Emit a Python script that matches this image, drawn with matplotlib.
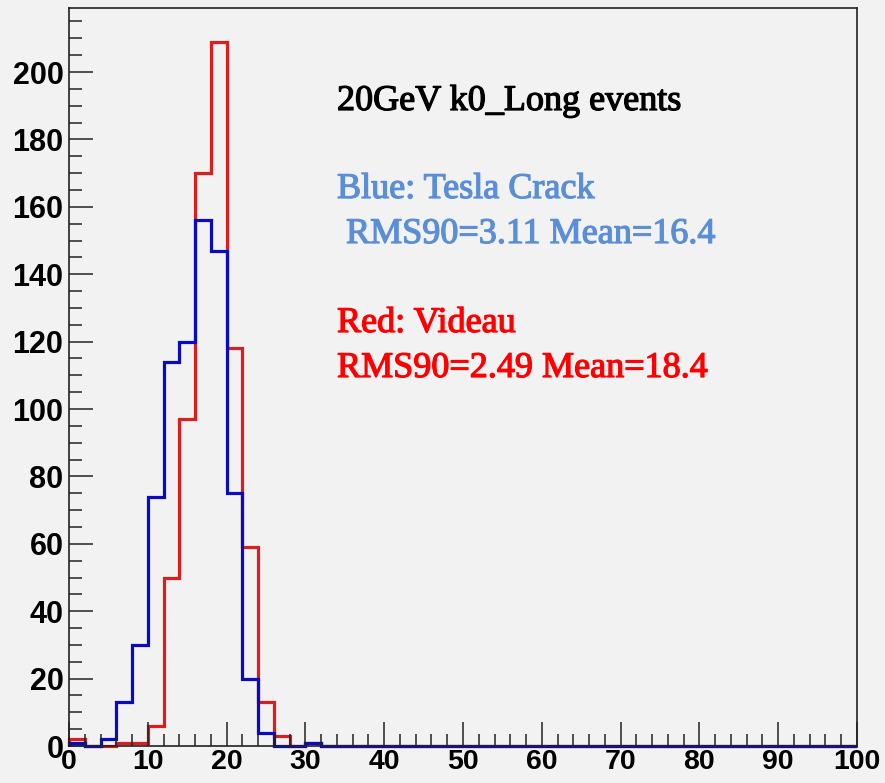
import numpy as np
import matplotlib
matplotlib.use("Agg")
import matplotlib.pyplot as plt
import matplotlib.patheffects as pe
from matplotlib.ticker import MultipleLocator

# bin edges: 50 bins of width 2 from 0 to 100
edges = np.arange(0, 102, 2)

# counts per bin (bins 0-2, 2-4, ... ), rest are zero
blue_counts = [1, 0, 2, 13, 30, 74, 114, 120, 156, 147, 75, 20, 4, 0, 0, 1]
red_counts = [2, 0, 0, 1, 1, 6, 50, 97, 170, 209, 118, 59, 13, 3, 0, 1]

blue = np.zeros(50)
blue[:len(blue_counts)] = blue_counts
red = np.zeros(50)
red[:len(red_counts)] = red_counts

title_txt = "20GeV k0_Long events"
blue_txt = ["Blue: Tesla Crack", " RMS90=3.11 Mean=16.4"]
red_txt = ["Red: Videau", "RMS90=2.49 Mean=18.4"]

bg = '#f2f2f2'
W, H = 885, 783

fig = plt.figure(figsize=(W / 100, H / 100), dpi=100, facecolor=bg)
ax = fig.add_axes([69 / W, 1 - 746 / H, (857 - 69) / W, (746 - 8) / H])
ax.set_facecolor(bg)

# red first, blue drawn on top
ax.stairs(red, edges, baseline=0, color='#d81e1e', lw=2.3, clip_on=False)
ax.stairs(blue, edges, baseline=0, color='#0a0ac0', lw=2.3, clip_on=False)

ax.set_xlim(0, 100)
ax.set_ylim(0, 219)

ax.xaxis.set_major_locator(MultipleLocator(10))
ax.xaxis.set_minor_locator(MultipleLocator(2))
ax.yaxis.set_major_locator(MultipleLocator(20))
ax.yaxis.set_minor_locator(MultipleLocator(5))

ax.tick_params(which='both', direction='in', top=False, right=False,
               width=1.1, color='#222222')
ax.tick_params(which='major', length=17)
ax.tick_params(which='minor', length=9)
ax.tick_params(axis='x', which='major', pad=2.5)
ax.tick_params(axis='y', which='major', pad=4)

for lab in ax.get_yticklabels():
    lab.set_fontfamily('Liberation Sans')
    lab.set_fontweight('bold')
    lab.set_fontsize(22)
for lab in ax.get_xticklabels():
    lab.set_fontfamily('Liberation Sans')
    lab.set_fontweight('bold')
    lab.set_fontsize(20.5)

for sp in ax.spines.values():
    sp.set_color('#222222')
    sp.set_linewidth(1.2)

# annotation text (pixel positions of left edge / baseline)
def put(txt, x, y, col):
    fig.text(x / W, 1 - y / H, txt, color=col, fontsize=26,
             family='Liberation Serif', ha='left', va='baseline',
             path_effects=[pe.withStroke(linewidth=0.9, foreground=col)])

put(title_txt, 337, 110, 'black')
put(blue_txt[0], 337, 198, '#5a8fd8')
put(blue_txt[1], 337, 243, '#5a8fd8')
put(red_txt[0], 337, 332, '#ff0000')
put(red_txt[1], 337, 377, '#ff0000')

plt.savefig('out.png', dpi=100, facecolor=bg)
